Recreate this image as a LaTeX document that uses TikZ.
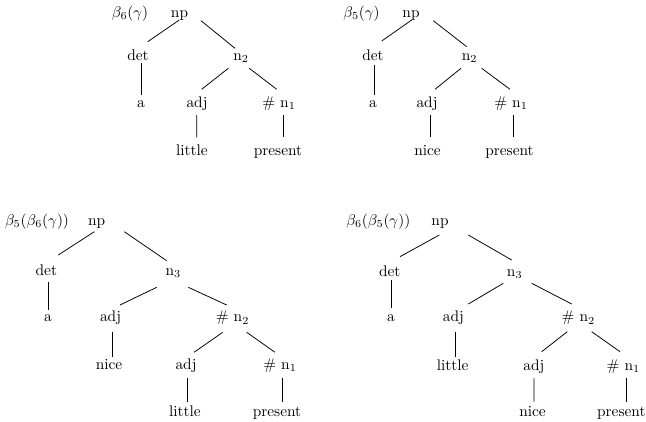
\documentclass[tikz,border=0pt]{standalone}
\begin{document}
\begin{tikzpicture}[x=0.65pt,y=-0.65pt,
  lbl/.style={anchor=base,inner sep=0pt,font=\fontsize{10}{12}\selectfont},
  edgeline/.style={line width=0.5pt}]
\newcommand\edg[4]{\draw[edgeline] ([shift={(#2)}]#1.base) -- ([shift={(#4)}]#3.base);}
\useasboundingbox (0,0) rectangle (646,421);
% ---------- top left ----------
\node[lbl] (L1) at (130,17) {$\beta_6(\gamma)$};
\node[lbl] (np1) at (179.5,17) {np};
\node[lbl] (det1) at (138,60) {det};
\node[lbl] (n21) at (241,60) {n$_2$};
\node[lbl] (a1) at (141,107) {a};
\node[lbl] (adj1) at (197,107) {adj};
\node[lbl] (n11) at (279,107) {\# n$_1$};
\node[lbl] (lit1) at (192,155) {little};
\node[lbl] (pre1) at (278,155) {present};
\edg{np1}{-0.2,3}{det1}{9.7,-18.3}
\edg{np1}{21.5,3.7}{n21}{-6,-11.7}
\edg{det1}{3.7,3.3}{a1}{0.7,-12}
\edg{n21}{-12.7,8.3}{adj1}{4.7,-17.7}
\edg{n21}{8.3,8.3}{n11}{-2.3,-17.7}
\edg{adj1}{-0.3,8}{lit1}{4.7,-17.7}
\edg{n11}{4.3,8}{pre1}{5.3,-17.7}
% ---------- top right ----------
\node[lbl] (L2) at (361.5,17) {$\beta_5(\gamma)$};
\node[lbl] (np2) at (411,17) {np};
\node[lbl] (det2) at (373,60) {det};
\node[lbl] (n22) at (469.5,60) {n$_2$};
\node[lbl] (a2) at (373,107) {a};
\node[lbl] (adj2) at (427,107) {adj};
\node[lbl] (n12) at (511,107) {\# n$_1$};
\node[lbl] (nice2) at (427.5,155) {nice};
\node[lbl] (pre2) at (509.5,155) {present};
\edg{np2}{0.7,3}{det2}{8.7,-19}
\edg{np2}{22.3,3.7}{n22}{-2.8,-13.3}
\edg{det2}{1.3,5}{a2}{1.3,-12}
\edg{n22}{-8.5,8.3}{adj2}{8,-17.7}
\edg{n22}{12.2,8.3}{n12}{-1,-17.7}
\edg{adj2}{3,8}{nice2}{2.5,-17.7}
\edg{n12}{2.3,8}{pre2}{3.8,-17.7}
% ---------- bottom left ----------
\node[lbl] (L3) at (37,225) {$\beta_5(\beta_6(\gamma))$};
\node[lbl] (np3) at (96.7,225) {np};
\node[lbl] (det3) at (46.3,275) {det};
\node[lbl] (n33) at (173.3,275) {n$_3$};
\node[lbl] (a3) at (48,321.7) {a};
\node[lbl] (adj3) at (110.5,321.7) {adj};
\node[lbl] (n23) at (232.5,321.7) {\# n$_2$};
\node[lbl] (nice3) at (109,369.3) {nice};
\node[lbl] (adj3b) at (186,369.3) {adj};
\node[lbl] (n13) at (280,369.3) {\# n$_1$};
\node[lbl] (lit3) at (185,416.7) {little};
\node[lbl] (pre3) at (277,416.7) {present};
\edg{np3}{-2.4,6.7}{det3}{12,-20}
\edg{np3}{27.6,6.7}{n33}{-6.6,-14.3}
\edg{det3}{2,6.7}{a3}{0.3,-11.7}
\edg{n33}{-16.6,12.3}{adj3}{9.5,-16.7}
\edg{n33}{15,12.3}{n23}{-5.8,-16.7}
\edg{adj3}{1.8,10}{nice3}{3.3,-12.6}
\edg{n23}{-9.8,10.6}{adj3b}{8,-17}
\edg{n23}{14.2,10.6}{n13}{-5,-17}
\edg{adj3b}{1.3,9}{lit3}{2.3,-15}
\edg{n13}{2.7,9}{pre3}{5.7,-15}
% ---------- bottom right ----------
\node[lbl] (L4) at (378.3,225) {$\beta_6(\beta_5(\gamma))$};
\node[lbl] (np4) at (440,225) {np};
\node[lbl] (det4) at (389.7,276) {det};
\node[lbl] (n34) at (514.7,276) {n$_3$};
\node[lbl] (a4) at (391,321.7) {a};
\node[lbl] (adj4) at (453.3,321.7) {adj};
\node[lbl] (n24) at (578.3,321.7) {\# n$_2$};
\node[lbl] (lit4) at (452.7,370) {little};
\node[lbl] (adj4b) at (533.8,370) {adj};
\node[lbl] (n14) at (623.3,370) {\# n$_1$};
\node[lbl] (nice4) at (532.5,416.7) {nice};
\node[lbl] (pre4) at (621.3,416.7) {present};
\edg{np4}{-0.7,10}{det4}{10.3,-19.3}
\edg{np4}{28.3,10}{n34}{-3,-16}
\edg{det4}{2,4}{a4}{0.7,-13.4}
\edg{n34}{-11.4,7.3}{adj4}{15,-17.7}
\edg{n34}{17,7.3}{n24}{-6.6,-17.7}
\edg{adj4}{1.7,10}{lit4}{2.3,-13.3}
\edg{n24}{-11,10}{adj4b}{7.9,-18.3}
\edg{n24}{13.4,10}{n14}{-3.3,-18.3}
\edg{adj4b}{0.2,8.3}{nice4}{1.5,-15}
\edg{n14}{3.4,8.3}{pre4}{5.4,-15}
\end{tikzpicture}
\end{document}
